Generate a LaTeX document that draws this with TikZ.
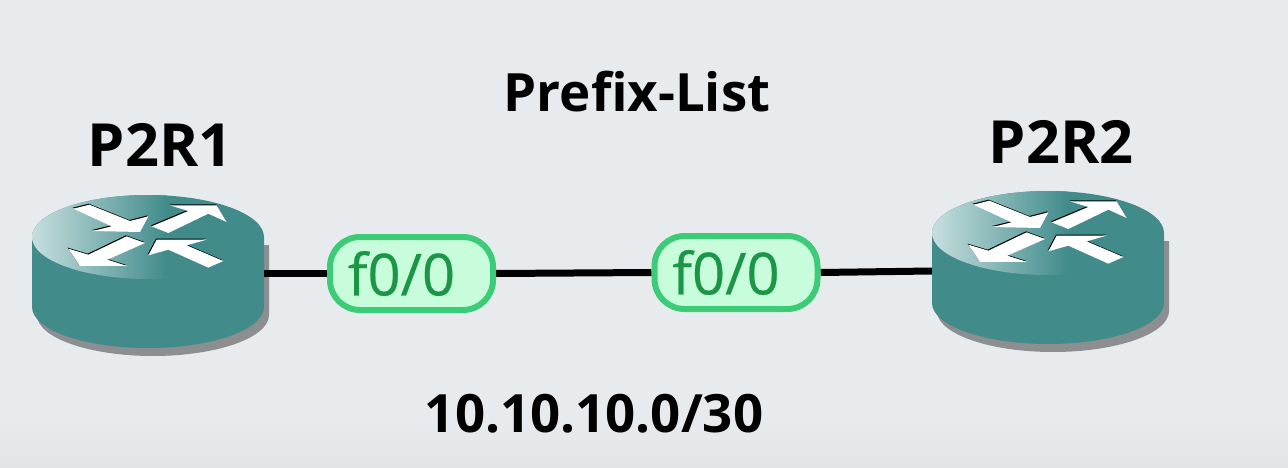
\documentclass[tikz,border=0pt]{standalone}
\usepackage{fontspec}
\usetikzlibrary{backgrounds}
\setmainfont{Open Sans}
\newfontfamily\pillfont[FakeBold=0.4]{Open Sans}
\definecolor{bgc}{HTML}{E8EBEE}
\definecolor{bgd}{HTML}{E2E5E8}
\definecolor{teal1}{HTML}{418B8B}
\definecolor{teallight}{HTML}{C6DEDE}
\definecolor{shadowc}{HTML}{8C8E90}
\definecolor{pillfill}{HTML}{C8FDDC}
\definecolor{pillline}{HTML}{3CCC78}
\definecolor{pilltext}{HTML}{1A9646}
\tikzset{
  link/.style={draw=black,line width=7pt},
  pill/.style={draw=pillline,fill=pillfill,line width=6pt,rounded corners=30pt,minimum width=163pt,minimum height=73pt,inner sep=0pt,text=pilltext,font=\pillfont\fontsize{58}{60}\selectfont},
  bigtitle/.style={font=\fontsize{59.5}{60}\selectfont\bfseries,text=black,inner sep=0pt},
  title/.style={font=\fontsize{52.8}{54}\selectfont\bfseries,text=black,inner sep=0pt},
  routerbox/.style={minimum width=232pt,minimum height=154pt,inner sep=0pt},
  arrowface/.style={fill=white,draw=none},
  arrowedge/.style={fill=black,draw=none}
}
\newcommand{\arrowset}[1]{%
  \path[#1] (220,115)--(268,103)--(390,152)--(445,138)--(420,185)--(278,182)--(335,168)--cycle;
  \path[#1] (455,168)--(565,122)--(510,105)--(650,105)--(680,155)--(625,130)--(505,188)--cycle;
  \path[#1] (380,198)--(435,218)--(322,268)--(382,287)--(240,287)--(205,235)--(265,253)--cycle;
  \path[#1] (470,208)--(620,208)--(560,225)--(670,272)--(625,292)--(505,238)--(445,255)--cycle;
}
\newcommand{\routerbody}[2]{%
  \begin{scope}[shift={(#1,#2)}]
    \fill[shadowc] (5,8) -- (237,8) -- (237,78) arc[start angle=0,end angle=180,x radius=116,y radius=41] -- cycle;
    \fill[teal1] (0,0) -- (0,70) arc[start angle=180,end angle=0,x radius=116,y radius=41] -- (232,0) arc[start angle=0,end angle=-180,x radius=116,y radius=42] -- cycle;
    \begin{scope}
      \clip (116,0) ellipse [x radius=116,y radius=42];
      \shade[left color=teallight,right color=teal1] (0,-44) rectangle (136,44);
    \end{scope}
    \begin{scope}[x=0.3333pt,y=-0.3333pt,shift={(-96,-200)}]
      \begin{scope}[shift={(-2,-3)}]\arrowset{arrowedge}\end{scope}
      \arrowset{arrowface}
    \end{scope}
  \end{scope}
}
\begin{document}
\begin{tikzpicture}[x=1pt,y=-1pt]
\useasboundingbox (0,0) rectangle (1288,468);
\node[routerbox] (r1) at (148,271) {};
\node[routerbox] (r2) at (1048,268) {};
\node[pill] (p1) at (411.5,273.5) {\hspace*{-20pt}f0/0};
\node[pill] (p2) at (736,272.5) {\hspace*{-20pt}f0/0};
\begin{scope}[on background layer]
\fill[bgc] (0,0) rectangle (1288,468);
\shade[top color=bgc,bottom color=bgd] (0,420) rectangle (1288,468);
\routerbody{32}{237}
\routerbody{932}{233}
\draw[link] (r1.east |- p1) -- (p1.west);
\draw[link] (p1.east) -- (p2.west);
\draw[link] (p2.east) -- ([yshift=-3pt]r2.west);
\end{scope}
\node[bigtitle] (t1) at (160,145) {P2R1};
\node[bigtitle] (t2) at (1061,142) {P2R2};
\node[title] (t3) at (637,92) {Prefix-List};
\node[title] (t4) at (594,414) {10.10.10.0/30};
\end{tikzpicture}
\end{document}
